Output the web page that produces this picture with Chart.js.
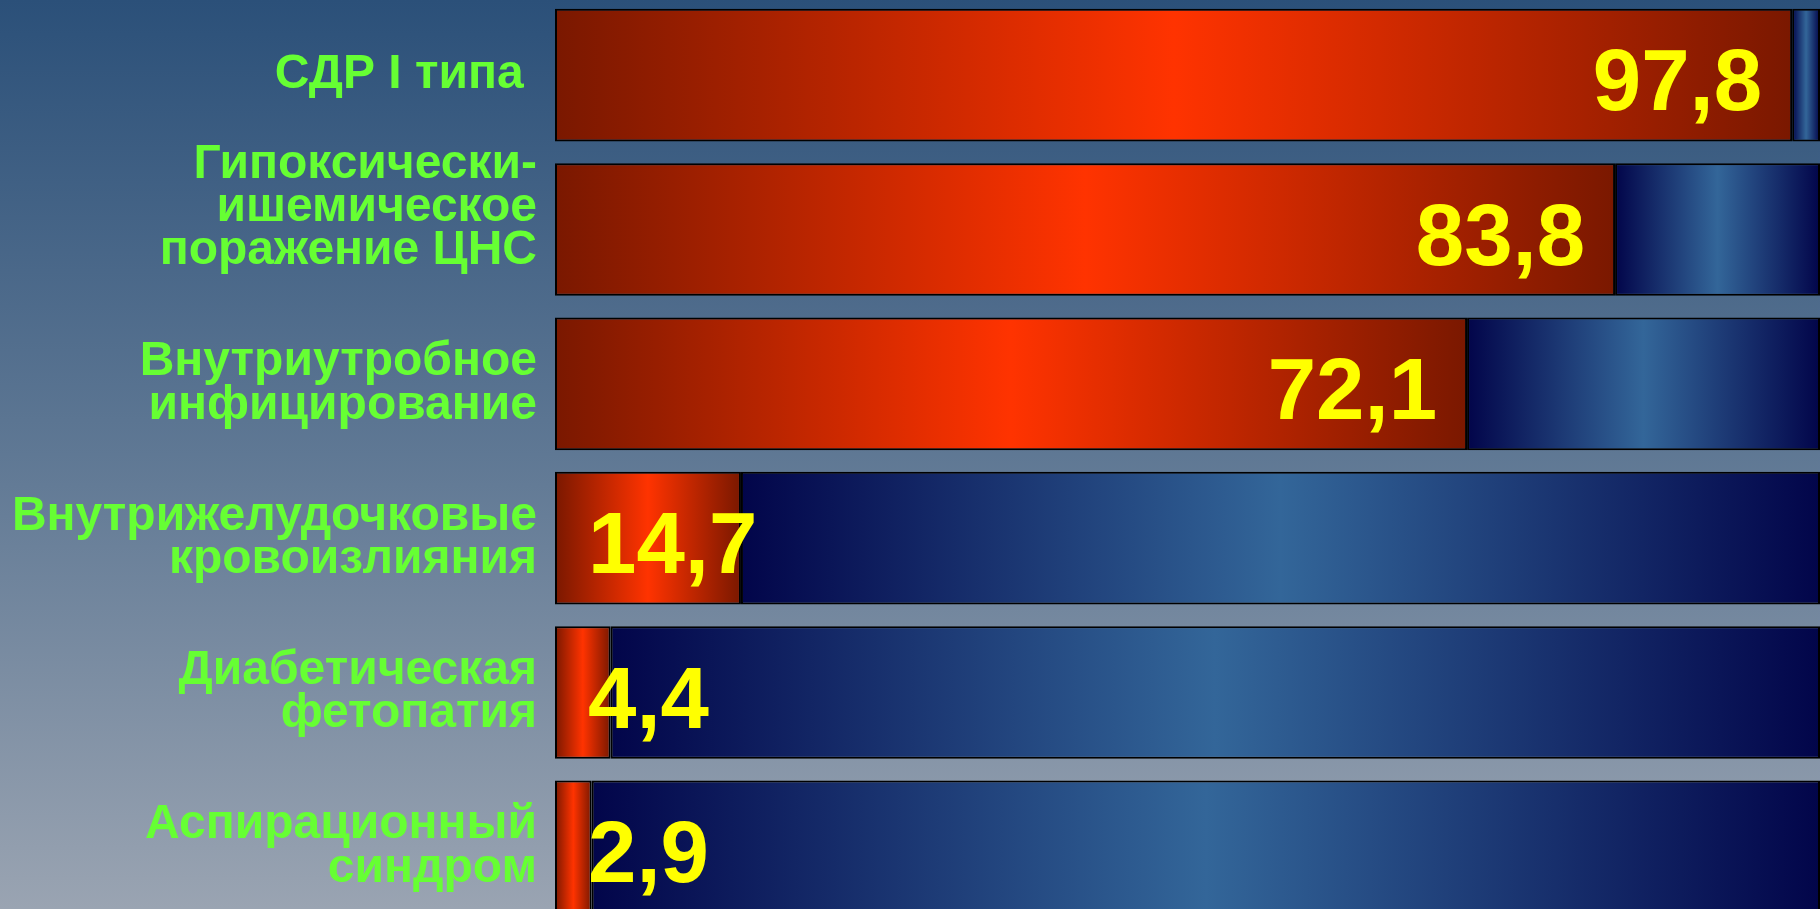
<!DOCTYPE html>
<html>
<head>
<meta charset="utf-8">
<script src="https://cdn.jsdelivr.net/npm/chart.js@4/dist/chart.umd.min.js"></script>
<style>
  html, body {
    margin: 0;
    padding: 0;
    width: 1820px;
    height: 909px;
    overflow: hidden;
    background: linear-gradient(to bottom, #2b5079 0%, #5f7894 50%, #9aa4b2 100%);
  }
  #wrap {
    position: absolute;
    left: 0;
    top: -2px;
    width: 1820px;
    height: 926px;
  }
</style>
</head>
<body>
<div id="wrap"><canvas id="bar-chart"></canvas></div>
<script>
// categorias (etiquetas del eje Y)
const categories = [
  'СДР I типа ',
  ['Гипоксически-', 'ишемическое', 'поражение ЦНС', ' '],
  ['Внутриутробное', 'инфицирование'],
  ['Внутрижелудочковые', 'кровоизлияния'],
  ['Диабетическая', 'фетопатия'],
  ['Аспирационный', 'синдром']
];

// porcentaje (parte roja)
const values = [97.8, 83.8, 72.1, 14.7, 4.4, 2.9];
// resto hasta 100 (parte azul)
const rest = [2.2, 16.2, 27.9, 85.3, 95.6, 97.1];

const axisMin = 0;
const axisMax = 100;

// gradiente horizontal entre dos valores del eje
const barGradient = (ctx, from, to, dark, light) => {
  const chart = ctx.chart;
  const x = chart.scales.x;
  if (!chart.chartArea || !x) return dark;
  const x0 = x.getPixelForValue(from);
  const x1 = x.getPixelForValue(to);
  const g = chart.ctx.createLinearGradient(x0, 0, Math.max(x1, x0 + 1), 0);
  g.addColorStop(0, dark);
  g.addColorStop(0.5, light);
  g.addColorStop(1, dark);
  return g;
};

// numeros amarillos sobre las barras rojas
const valueLabels = {
  id: 'valueLabels',
  afterDatasetsDraw(chart) {
    const ctx = chart.ctx;
    const meta = chart.getDatasetMeta(0);
    ctx.save();
    ctx.font = 'bold 87px "Liberation Sans", Arial, sans-serif';
    ctx.fillStyle = '#ffff00';
    ctx.textBaseline = 'alphabetic';
    meta.data.forEach((bar, i) => {
      const text = values[i].toFixed(1).replace('.', ',');
      const w = ctx.measureText(text).width;
      const len = bar.x - bar.base;
      if (len > w + 60) {
        ctx.textAlign = 'right';
        ctx.fillText(text, bar.x - 30, bar.y + 35);
      } else {
        ctx.textAlign = 'left';
        ctx.fillText(text, bar.base + 33, bar.y + 35);
      }
    });
    ctx.restore();
  }
};

const barCtx = document.getElementById('bar-chart').getContext('2d');

new Chart(barCtx, {
  type: 'bar',
  data: {
    labels: categories,
    datasets: [
      {
        label: 'value',
        data: values,
        backgroundColor: (ctx) => barGradient(ctx, axisMin, values[ctx.dataIndex], '#7a1800', '#ff3300'),
        borderColor: '#000000',
        borderWidth: 2,
        borderSkipped: false,
        barPercentage: 0.86,
        categoryPercentage: 1
      },
      {
        label: 'rest',
        data: rest,
        backgroundColor: (ctx) => barGradient(ctx, values[ctx.dataIndex], values[ctx.dataIndex] + rest[ctx.dataIndex], '#02054a', '#336699'),
        borderColor: '#000000',
        borderWidth: 2,
        borderSkipped: false,
        barPercentage: 0.86,
        categoryPercentage: 1
      }
    ]
  },
  options: {
    indexAxis: 'y',
    responsive: true,
    maintainAspectRatio: false,
    animation: false,
    layout: { padding: 0 },
    plugins: {
      legend: { display: false },
      tooltip: { enabled: false }
    },
    scales: {
      x: {
        stacked: true,
        min: axisMin,
        max: axisMax,
        display: false
      },
      y: {
        stacked: true,
        grid: { display: false, drawTicks: false },
        border: { display: false },
        afterFit: (scale) => {
          // ancho fijo del eje y sin relleno extra arriba/abajo
          scale.width = 555;
          scale.paddingTop = 0;
          scale.paddingBottom = 0;
        },
        ticks: {
          autoSkip: false,
          color: '#66ff33',
          padding: 18,
          font: {
            family: '"Liberation Sans", Arial, sans-serif',
            weight: 'bold',
            size: 48,
            lineHeight: 0.9
          }
        }
      }
    }
  },
  plugins: [valueLabels]
});
</script>
</body>
</html>
